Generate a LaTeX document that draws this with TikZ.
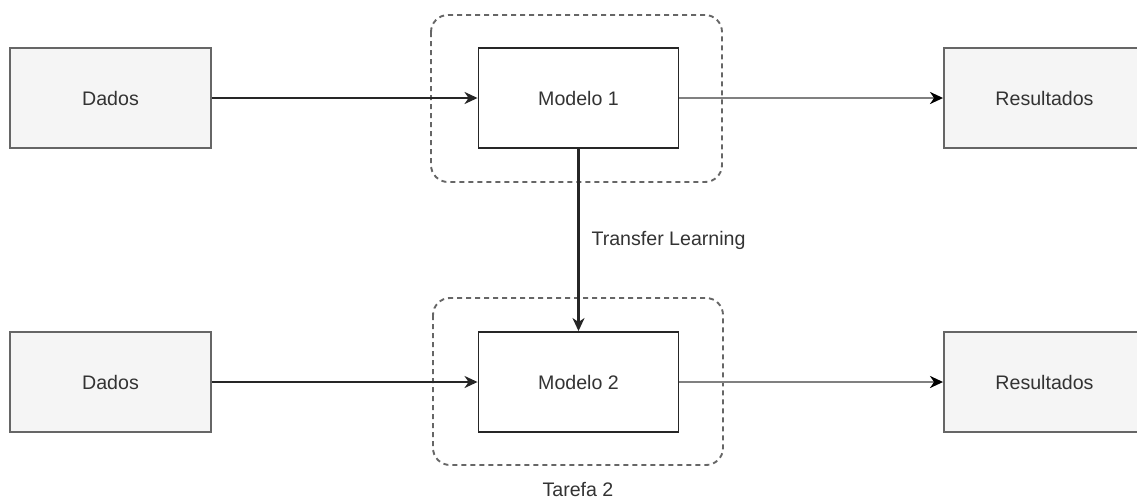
\documentclass[tikz,border=0pt]{standalone}
\usepackage{fontspec}
\setmainfont{Liberation Sans}
\usetikzlibrary{arrows.meta}
\definecolor{boxfill}{HTML}{F5F5F5}
\definecolor{boxline}{HTML}{666666}
\definecolor{txt}{HTML}{333333}
\definecolor{outline}{HTML}{808080}
\tikzset{
  iobox/.style={draw=boxline, fill=boxfill, line width=1.9pt, minimum width=201pt, minimum height=100pt, inner sep=0pt, text=txt, font=\fontsize{19.6}{23}\selectfont},
  modelbox/.style={draw=black!85, fill=white, line width=1.9pt, minimum width=200pt, minimum height=100pt, inner sep=0pt, text=txt, font=\fontsize{19.6}{23}\selectfont},
  taskframe/.style={draw=boxline, line width=1.9pt, dash pattern=on 5pt off 4pt, rounded corners=17pt},
  flow/.style={draw=black!85, line width=2.1pt, -{Stealth[length=13pt,width=12pt,inset=4pt]}},
  outflow/.style={draw=outline, line width=2.6pt, -{Stealth[length=13pt,width=12pt,inset=4pt,color=black]}},
  lbl/.style={text=txt, font=\fontsize{19.6}{23}\selectfont, inner sep=0pt}
}
\begin{document}
\begin{tikzpicture}[x=1pt, y=-1pt]
  \useasboundingbox (0,0) rectangle (1137,498);
  \clip (0,0) rectangle (1137,498);

  % task frames around the models
  \draw[taskframe] (431,15) rectangle (722,182);
  \draw[taskframe] (433,298) rectangle (723,465);

  % first row
  \node[iobox] (dados1) at (110.5,98) {Dados};
  \node[modelbox] (modelo1) at (578.5,98) {Modelo 1};
  \node[iobox] (res1) at (1044.5,98) {Resultados};

  % second row
  \node[iobox] (dados2) at (110.5,382) {Dados};
  \node[modelbox] (modelo2) at (578.5,382) {Modelo 2};
  \node[iobox] (res2) at (1044.5,382) {Resultados};

  % connectors
  \draw[flow] (dados1) -- (modelo1);
  \draw[outflow] (modelo1) -- (res1);
  \draw[flow] (dados2) -- (modelo2);
  \draw[outflow] (modelo2) -- (res2);
  \draw[flow] (modelo1) -- (modelo2)
    node[pos=0.5, right=12pt, lbl] {Transfer Learning};

  % frame caption
  \node[lbl] (tarefa2) at (578,489) {Tarefa 2};
\end{tikzpicture}
\end{document}
